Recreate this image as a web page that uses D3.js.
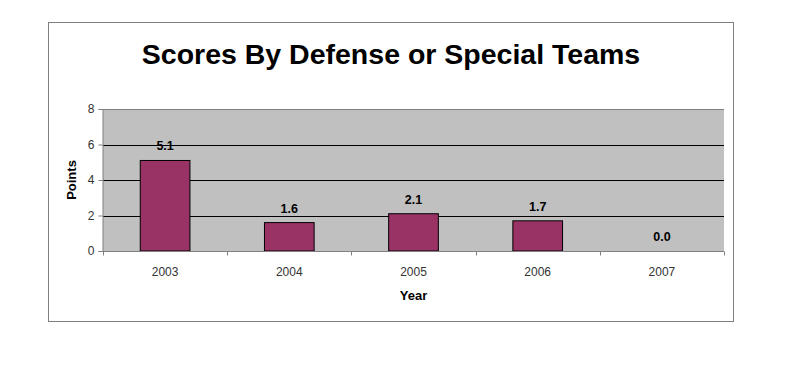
<!DOCTYPE html>
<html lang="en">
<head>
<meta charset="UTF-8"/>
<title>Scores By Defense or Special Teams</title>
<script src="https://d3js.org/d3.v7.min.js"></script>
<style>
	body { margin: 0; background: #fff; }
	text { font-family: Arial, "Liberation Sans", sans-serif; }
</style>
</head>
<body>
<script>
	var years = ["2003", "2004", "2005", "2006", "2007"];
	var points = [5.1, 1.6, 2.1, 1.7, 0.0];
	var yTicks = [0, 2, 4, 6, 8];

	var w = 799, h = 390;
	var plotLeft = 103, plotRight = 724, plotTop = 109, plotBottom = 251;

	var svg = d3.select("body").append("svg").attr("width", w).attr("height", h);

	// outer frame
	svg.append("rect")
		.attr("x", 48.5).attr("y", 22.5)
		.attr("width", 685).attr("height", 299)
		.attr("fill", "#fff").attr("stroke", "#808080").attr("stroke-width", 1);

	var xScale = d3.scaleBand().domain(years).range([plotLeft, plotRight]).paddingInner(0).paddingOuter(0);
	var yScale = d3.scaleLinear().domain([0, 8]).range([plotBottom, plotTop]);

	// plot background
	svg.append("rect")
		.attr("x", plotLeft).attr("y", plotTop)
		.attr("width", plotRight - plotLeft).attr("height", plotBottom - plotTop)
		.attr("fill", "#c0c0c0");

	// gridlines (top one is the gray plot border)
	svg.selectAll("line.grid").data(yTicks.filter(function(d){ return d > 0; })).enter().append("line")
		.attr("class", "grid")
		.attr("x1", plotLeft).attr("x2", plotRight)
		.attr("y1", function(d){ return Math.round(yScale(d)) + 0.5; })
		.attr("y2", function(d){ return Math.round(yScale(d)) + 0.5; })
		.attr("stroke", function(d){ return d === 8 ? "#808080" : "#000"; })
		.attr("stroke-width", 1);

	// bars
	var barW = xScale.bandwidth() * 0.4;
	svg.selectAll("rect.bar").data(points).enter().append("rect")
		.attr("class", "bar")
		.attr("x", function(d, i){ return xScale(years[i]) + (xScale.bandwidth() - barW) / 2; })
		.attr("y", function(d){ return yScale(d); })
		.attr("width", barW)
		.attr("height", function(d){ return plotBottom - yScale(d); })
		.attr("fill", "#993366").attr("stroke", "#000").attr("stroke-width", 1);

	// value labels
	svg.selectAll("text.val").data(points).enter().append("text")
		.attr("class", "val")
		.text(function(d){ return d.toFixed(1); })
		.attr("x", function(d, i){ return xScale(years[i]) + xScale.bandwidth() / 2; })
		.attr("y", function(d){ return yScale(d) - 10; })
		.attr("text-anchor", "middle")
		.attr("font-size", "12.5px").attr("font-weight", "bold").attr("fill", "#000");

	// axes
	var yAxis = d3.axisLeft(yScale).tickValues(yTicks).tickSize(4).tickPadding(4);
	var gy = svg.append("g").attr("transform", "translate(" + (plotLeft - 0.5) + ",0)").call(yAxis);
	gy.select(".domain").attr("stroke", "#808080");
	gy.selectAll(".tick line").attr("stroke", "#808080");
	gy.selectAll(".tick text").attr("font-size", "12px").attr("fill", "#333")
		.attr("font-family", "Arial, 'Liberation Sans', sans-serif");

	var gx = svg.append("g").attr("transform", "translate(0," + (plotBottom + 0.5) + ")");
	gx.append("line").attr("x1", plotLeft).attr("x2", plotRight).attr("stroke", "#808080");
	gx.selectAll("line.tk").data(years.concat(["end"])).enter().append("line")
		.attr("class", "tk")
		.attr("x1", function(d, i){ return Math.round(plotLeft + i * xScale.step()) + 0.5; })
		.attr("x2", function(d, i){ return Math.round(plotLeft + i * xScale.step()) + 0.5; })
		.attr("y1", 0).attr("y2", 4)
		.attr("stroke", "#808080");
	gx.selectAll("text").data(years).enter().append("text")
		.text(function(d){ return d; })
		.attr("x", function(d){ return xScale(d) + xScale.bandwidth() / 2; })
		.attr("y", 24)
		.attr("text-anchor", "middle")
		.attr("font-size", "12px").attr("fill", "#333");

	// axis titles
	svg.append("text").text("Year")
		.attr("x", (plotLeft + plotRight) / 2).attr("y", 300)
		.attr("text-anchor", "middle")
		.attr("font-size", "13px").attr("font-weight", "bold");

	svg.append("text").text("Points")
		.attr("transform", "translate(76," + ((plotTop + plotBottom) / 2) + ") rotate(-90)")
		.attr("text-anchor", "middle")
		.attr("font-size", "13px").attr("font-weight", "bold");

	// chart title
	svg.append("text").text("Scores By Defense or Special Teams")
		.attr("x", 391).attr("y", 64)
		.attr("text-anchor", "middle")
		.attr("font-size", "28.5px").attr("font-weight", "bold");
</script>
</body>
</html>
